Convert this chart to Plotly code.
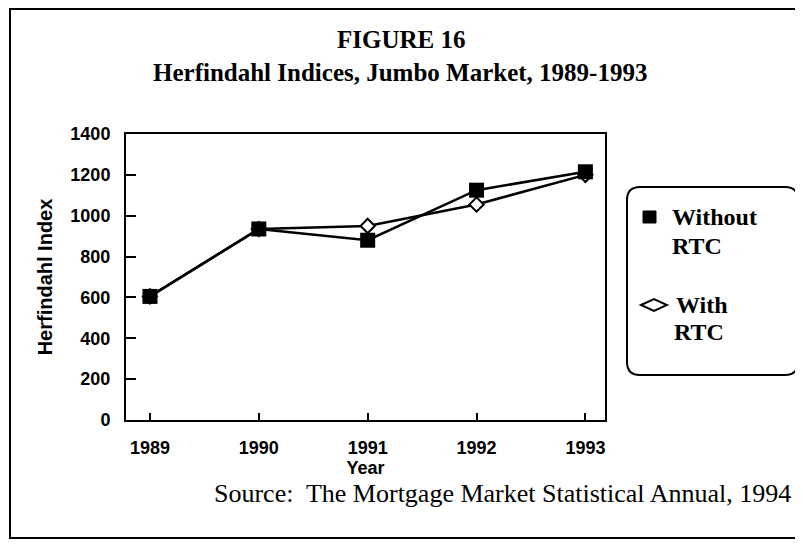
import plotly.graph_objects as go

years = [1989, 1990, 1991, 1992, 1993]
without_rtc = [605, 935, 880, 1125, 1215]
with_rtc = [605, 935, 950, 1055, 1200]
y_ticks = [0, 200, 400, 600, 800, 1000, 1200, 1400]
series_names = ["Without", "With"]

# the page body has an 8px margin; the figure is sized to fit the window
OFF = 8
W, H = 803 - OFF, 548 - OFF
L, R, T, B = 126, 605, 134, 420  # plot area in reference-window pixels


def px(x):
    return (x - L) / (R - L)


def py(y):
    return (B - y) / (B - T)


fig = go.Figure()

fig.add_trace(go.Scatter(
    x=years, y=with_rtc, mode="lines+markers", name="With RTC",
    line=dict(color="black", width=2.5),
    marker=dict(symbol="diamond", size=11, color="white",
                line=dict(color="black", width=2)),
    showlegend=False))
fig.add_trace(go.Scatter(
    x=years, y=without_rtc, mode="lines+markers", name="Without RTC",
    line=dict(color="black", width=2.5),
    marker=dict(symbol="square", size=15, color="black"),
    showlegend=False))

serif = "Liberation Serif, Times New Roman, serif"
sans = "Liberation Sans, Arial, sans-serif"

shapes = []
# outer frame
shapes.append(dict(type="rect", xref="paper", yref="paper",
                   x0=px(10), x1=px(802), y0=py(538), y1=py(9),
                   line=dict(color="black", width=2)))
# legend rounded box
x0, x1, y0, y1, r = 627, 798, 187, 375, 13
path = (f"M {px(x0 + r)} {py(y0)} L {px(x1 - r)} {py(y0)} "
        f"Q {px(x1)} {py(y0)} {px(x1)} {py(y0 + r)} "
        f"L {px(x1)} {py(y1 - r)} Q {px(x1)} {py(y1)} {px(x1 - r)} {py(y1)} "
        f"L {px(x0 + r)} {py(y1)} Q {px(x0)} {py(y1)} {px(x0)} {py(y1 - r)} "
        f"L {px(x0)} {py(y0 + r)} Q {px(x0)} {py(y0)} {px(x0 + r)} {py(y0)} Z")
shapes.append(dict(type="path", xref="paper", yref="paper", path=path,
                   line=dict(color="black", width=2)))
# legend square symbol
shapes.append(dict(type="rect", xref="paper", yref="paper",
                   x0=px(643), x1=px(656), y0=py(223), y1=py(211),
                   fillcolor="black", line=dict(color="black", width=1)))
# legend diamond symbol
dpath = (f"M {px(641)} {py(305)} L {px(654)} {py(299)} L {px(667)} {py(305)} "
         f"L {px(654)} {py(311)} Z")
shapes.append(dict(type="path", xref="paper", yref="paper", path=dpath,
                   fillcolor="white", line=dict(color="black", width=2)))

annotations = []


def txt(text, x, y, size, bold=False, family=serif, xanchor="center"):
    annotations.append(dict(
        text=f"<b>{text}</b>" if bold else text, x=px(x), y=py(y),
        xref="paper", yref="paper", showarrow=False, xanchor=xanchor,
        yanchor="middle", font=dict(family=family, size=size, color="black")))


txt("FIGURE 16", 401, 40, 25, bold=True)
txt("Herfindahl Indices, Jumbo Market, 1989-1993", 400, 73, 25, bold=True)
txt("Source:  The Mortgage Market Statistical Annual, 1994", 502, 493, 26)
txt(series_names[0], 670, 217, 24, bold=True, xanchor="left")
txt("RTC", 670, 246, 24, bold=True, xanchor="left")
txt(series_names[1], 674, 305, 24, bold=True, xanchor="left")
txt("RTC", 672, 332, 24, bold=True, xanchor="left")

fig.update_layout(
    width=W, height=H,
    margin=dict(l=L - OFF, r=W - (R - OFF), t=T - OFF, b=H - (B - OFF), pad=0),
    paper_bgcolor="white", plot_bgcolor="white",
    shapes=shapes, annotations=annotations,
    showlegend=False,
    xaxis=dict(range=[1988.78, 1993.18], tickvals=years,
               ticktext=[f"<b>{y}</b>" for y in years],
               showgrid=False, zeroline=False,
               showline=True, linecolor="black", linewidth=2, mirror=True,
               ticks="inside", ticklen=7, tickwidth=2, tickcolor="black",
               ticklabelstandoff=10,
               tickfont=dict(family=sans, size=18, color="black"),
               title=dict(text="<b>Year</b>", standoff=2,
                          font=dict(family=sans, size=18, color="black"))),
    yaxis=dict(range=[0, 1400], tickvals=y_ticks,
               ticktext=[f"<b>{v}</b>" for v in y_ticks],
               showgrid=False, zeroline=False,
               showline=True, linecolor="black", linewidth=2, mirror=True,
               ticks="inside", ticklen=10, tickwidth=2, tickcolor="black",
               ticklabelstandoff=10,
               tickfont=dict(family=sans, size=18, color="black"),
               title=dict(text="<b>Herfindahl Index</b>", standoff=12,
                          font=dict(family=sans, size=20, color="black"))),
)

fig.write_html("out.html")
